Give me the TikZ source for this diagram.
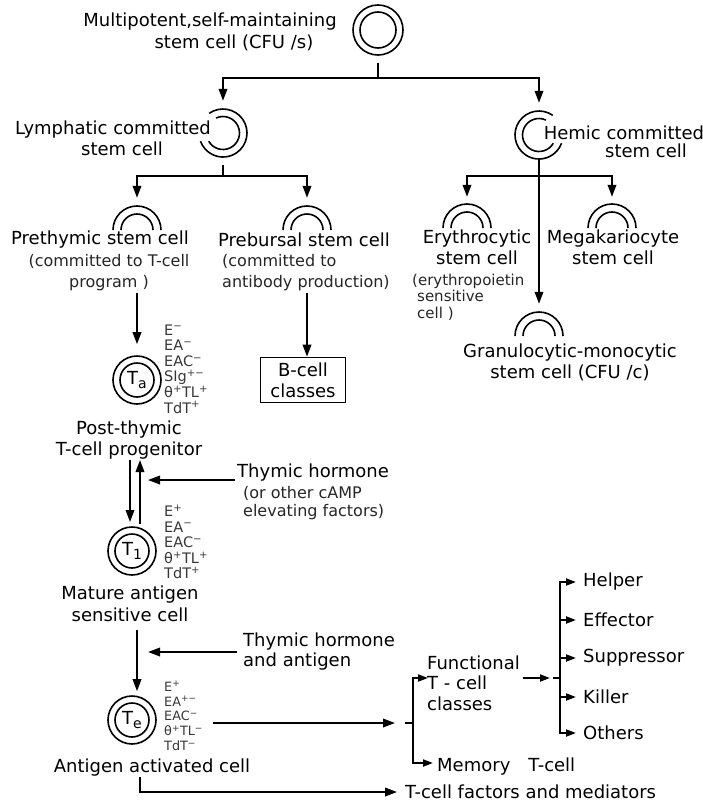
\documentclass[tikz,border=0pt]{standalone}
\usepackage{fontspec}
\setmainfont{DejaVu Sans}
\usetikzlibrary{arrows.meta}
\newcommand\halfarcs[1]{%
  \draw[cl] ([shift={(0:24)}]#1.center) arc[start angle=0,end angle=-180,radius=24];
  \draw[cl] ([shift={(0:16)}]#1.center) arc[start angle=0,end angle=-180,radius=16];}
\newcommand\cellsub[1]{\raisebox{-3.5pt}{\fontsize{14}{14}\selectfont #1}}
\begin{document}
\begin{tikzpicture}[x=1pt,y=-1pt,
  ln/.style={line width=1.9pt},
  arr/.style={ln,-{Triangle[length=12pt,width=8.5pt]}},
  sarr/.style={ln,-{Triangle[length=10pt,width=7pt]}},
  cl/.style={line width=1.6pt},
  lab/.style={font=\fontsize{18}{21}\selectfont, inner sep=0pt, align=center},
  sub/.style={font=\fontsize{16}{21}\selectfont, inner sep=0pt, text=black!85},
  mk/.style={font=\fontsize{14.5}{15.6}\selectfont, inner sep=0pt, align=left, text=black!78},
  ghost/.style={circle, minimum size=48pt, inner sep=0pt},
  cellnode/.style={circle, draw, cl, minimum size=48pt, inner sep=0pt, font=\fontsize{18}{18}\selectfont},
]
\fill[white] (0,0) rectangle (703,803);
\useasboundingbox (0,0) rectangle (703,803);

% top stem cell
\node[ghost, draw, cl, minimum size=50pt] (c0) at (378,30) {};
\draw[cl] (c0.center) circle[radius=18];
\node[lab] (t0a) at (210,22) {Multipotent,self-maintaining};
\node[lab] (t0b) at (234,43) {stem cell (CFU /s)};

\coordinate (j0) at (378,78);
\draw[ln, shorten <=7pt] (c0.south) -- (j0);
\node[ghost] (lym) at (223,133) {};
\node[ghost] (hem) at (539,135) {};
\draw[arr, shorten >=8pt] (j0) -| (lym);
\draw[arr, shorten >=8pt] (j0) -| (hem);

% lymphatic cell
\draw[cl] ([shift={(-125:24)}]lym.center) arc[start angle=-125,end angle=160,radius=24];
\draw[cl] ([shift={(-115:16.5)}]lym.center) arc[start angle=-115,end angle=150,radius=16.5];
\node[lab] (lyma) at (113,130) {Lymphatic committed};
\node[lab] (lymb) at (122,149) {stem cell};

% hemic cell
\draw[cl] ([shift={(-55:24)}]hem.center) arc[start angle=-55,end angle=-340,radius=24];
\draw[cl] ([shift={(-65:16.5)}]hem.center) arc[start angle=-65,end angle=-330,radius=16.5];
\node[lab] (hema) at (624,133) {Hemic committed};
\node[lab] (hemb) at (646,151) {stem cell};

% lymphatic branches
\coordinate (j1) at (223,176);
\draw[ln, shorten <=8pt] (lym.south) -- (j1);
\node[ghost] (pre) at (137,230) {};
\node[ghost] (preb) at (307,230) {};
\draw[arr, shorten >=8pt] (j1) -| (pre);
\draw[arr, shorten >=8pt] (j1) -| (preb);
\halfarcs{pre}
\halfarcs{preb}

\node[lab] (pret) at (100,240) {Prethymic stem cell};
\node[sub, align=center] (prec) at (109,273) {(committed to T-cell\\program )};
\node[lab] (prebt) at (304,240) {Prebursal stem cell};
\node[sub, align=left, anchor=west] (prebc) at (222,273) {(committed to\\antibody production)};

% hemic branches
\coordinate (j2) at (539,176);
\node[ghost] (ery) at (467,228) {};
\node[ghost] (meg) at (612,228) {};
\node[ghost] (gran) at (539,336) {};
\draw[arr, shorten >=7pt] (j2) -| (ery);
\draw[arr, shorten >=7pt] (j2) -| (meg);
\draw[arr, shorten >=8pt] (hem.south) -- (gran);
\halfarcs{ery}
\halfarcs{meg}
\halfarcs{gran}
\node[lab] (eryt) at (477,247) {Erythrocytic\\stem cell};
\node[sub, font=\fontsize{15}{16.5}\selectfont, align=left, anchor=west] (eryc) at (412,297) {(erythropoietin\\\hspace{5pt}sensitive\\\hspace{5pt}cell )};
\node[lab] (megt) at (613,247) {Megakariocyte\\stem cell};
\node[lab] (grant) at (570,362) {Granulocytic-monocytic\\stem cell (CFU /c)};

% T-cell line
\node[cellnode] (ta) at (137,380) {T\cellsub{a}};
\draw[cl] (ta.center) circle[radius=17];
\coordinate (a1) at (137,293);
\draw[arr, shorten >=11pt] (a1) -- (ta.north);
\node[mk, anchor=west] (mka) at (164,369) {E\textsuperscript{−}\\EA\textsuperscript{−}\\EAC\textsuperscript{−}\\SIg\textsuperscript{+−}\\θ\textsuperscript{+}TL\textsuperscript{+}\\TdT\textsuperscript{+}};

\node[draw, cl, lab, minimum width=85pt, minimum height=45pt, inner sep=2pt] (bcell) at (303,380) {B-cell\\classes};
\coordinate (a2) at (307,293);
\draw[arr] (a2) -- (a2 |- bcell.north);

\node[lab] (post) at (129,440) {Post-thymic\\T-cell progenitor};
\node[cellnode] (t1) at (132,551) {T\cellsub{1}};
\draw[cl] (t1.center) circle[radius=17];
\coordinate (d1a) at (130,460); \coordinate (d1b) at (130,522);
\draw[arr] (d1a) -- (d1b);
\coordinate (u1a) at (140,524); \coordinate (u1b) at (140,460);
\draw[arr] (u1a) -- (u1b);

\coordinate (h1) at (235,480); \coordinate (h1e) at (148,480);
\draw[arr] (h1) -- (h1e);
\node[lab, anchor=west] (th1) at (237,473) {Thymic hormone};
\node[sub, font=\fontsize{16}{18.5}\selectfont, align=left, anchor=west] (th1b) at (243,503) {(or other cAMP\\elevating factors)};

\node[mk, anchor=west] (mk1) at (164,542) {E\textsuperscript{+}\\EA\textsuperscript{−}\\EAC\textsuperscript{−}\\θ\textsuperscript{+}TL\textsuperscript{+}\\TdT\textsuperscript{+}};
\node[lab, font=\fontsize{18}{22}\selectfont] (mat) at (130,604) {Mature antigen\\sensitive cell};

\node[cellnode] (te) at (132,720) {T\cellsub{e}};
\draw[cl] (te.center) circle[radius=17];
\coordinate (d2a) at (137,630);
\draw[arr, shorten >=4pt] (d2a) -- (d2a |- te.north);
\coordinate (h2) at (237,652); \coordinate (h2e) at (148,652);
\draw[arr] (h2) -- (h2e);
\node[lab, font=\fontsize{18}{20}\selectfont, align=left, anchor=west] (th2) at (243,652) {Thymic hormone\\and antigen};
\node[mk, font=\fontsize{12.8}{14.8}\selectfont, anchor=west] (mke) at (164,716) {E\textsuperscript{+}\\EA\textsuperscript{+−}\\EAC\textsuperscript{−}\\θ\textsuperscript{+}TL\textsuperscript{−}\\TdT\textsuperscript{−}};
\node[lab] (act) at (152,768) {Antigen activated cell};

% to functional classes
\coordinate (e1) at (213,723); \coordinate (e1e) at (395,723);
\draw[arr] (e1) -- (e1e);
\coordinate (b1d) at (405,723); \coordinate (b1c) at (413,723);
\draw[ln] (b1d) -- (b1c);
\node[lab, font=\fontsize{18}{20.5}\selectfont, align=left, anchor=west] (func) at (427,683) {Functional\\T - cell\\classes};
\coordinate (ftip) at (428,678);
\coordinate (mtip) at (433,763);
\draw[sarr] (b1c) |- (ftip);
\draw[sarr] (b1c) |- (mtip);
\node[lab, anchor=west] (mem) at (437,767) {Memory\hspace{1em}T-cell};

\coordinate (f1) at (523,678); \coordinate (f1e) at (550,678);
\draw[sarr] (f1) -- (f1e);
\coordinate (b2d) at (553,678); \coordinate (b2c) at (560,678);
\draw[ln] (b2d) -- (b2c);
\node[lab, anchor=west] (hlp) at (583,582) {Helper};
\node[lab, anchor=west] (eff) at (583,620) {Effector};
\node[lab, anchor=west] (sup) at (583,658) {Suppressor};
\node[lab, anchor=west] (kil) at (583,697) {Killer};
\node[lab, anchor=west] (oth) at (583,733) {Others};
\draw[sarr, shorten >=7pt] (b2c) |- (hlp.west);
\draw[sarr, shorten >=7pt] (b2c) |- (eff.west);
\draw[sarr, shorten >=7pt] (b2c) |- (sup.west);
\draw[sarr, shorten >=7pt] (b2c) |- (kil.west);
\draw[sarr, shorten >=7pt] (b2c) |- (oth.west);

% factors
\coordinate (g1) at (140,777); \coordinate (g1e) at (397,792);
\draw[arr] (g1) |- (g1e);
\node[lab, anchor=west] (fac) at (405,792) {T-cell factors and mediators};
\end{tikzpicture}
\end{document}
